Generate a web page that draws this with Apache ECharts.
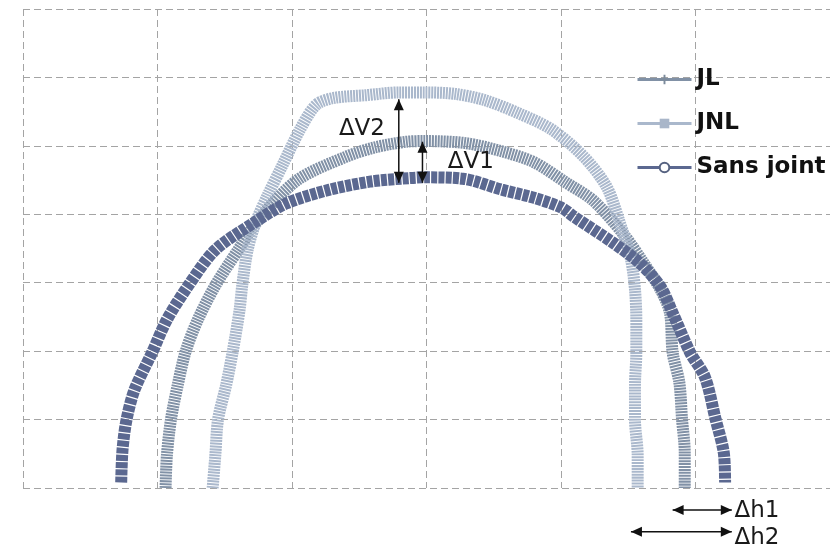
<!DOCTYPE html>
<html>
<head>
<meta charset="utf-8">
<title>JL / JNL / Sans joint</title>
<script src="https://cdn.jsdelivr.net/npm/echarts/dist/echarts.min.js"></script>
<style>
    html, body { margin: 0; padding: 0; background: #fff; }
    #main { width: 830px; height: 554px; }
</style>
</head>
<body>
<div id="main"></div>
<script>
// series values (x: horizontal position, y: height)
var seriesNames = ['JL', 'JNL', 'Sans joint'];

var jlX = [-19.4, -19.3, -19.0, -18.5, -17.9, -17.0, -15.7, -14.0, -12.4, -9.6, -6.0, -3.8, -1.5, -0.1,
    2.9, 5.6, 8.0, 10.4, 12.4, 14.6, 16.1, 17.4, 18.1, 18.3, 18.8, 19.0, 19.2, 19.2];
var jlY = [0, 2.4, 5.0, 7.5, 10.0, 12.3, 14.8, 17.4, 19.7, 22.5, 24.2, 24.9, 25.3, 25.35,
    25.2, 24.6, 23.8, 22.3, 21.0, 18.6, 16.5, 14.5, 12.8, 9.9, 7.7, 5.0, 2.6, 0];

var jnlX = [-15.9, -15.7, -15.5, -14.9, -14.4, -13.9, -13.7, -13.3, -12.7, -11.8, -10.7, -9.4, -8.2, -6.9,
    -4.5, -2.1, -0.1,
    2.1, 4.3, 6.8, 9.3, 11.7, 13.4, 14.3, 15.2, 15.5, 15.6, 15.6, 15.5, 15.5, 15.7, 15.7];
var jnlY = [0, 2.4, 5.0, 7.5, 10.0, 13.0, 14.8, 17.4, 19.4, 21.4, 23.6, 26.2, 28.0, 28.5,
    28.7, 28.9, 28.9,
    28.8, 28.35, 27.4, 26.2, 24.2, 22.0, 19.6, 16.7, 14.5, 12.3, 9.9, 7.5, 5.0, 2.4, 0];

var sansX = [-22.7, -22.6, -22.3, -21.7, -20.4, -19.3, -17.7, -15.7, -12.8, -10.4, -7.2, -4.1, -1.2, -0.1,
    2.7, 5.6, 8.0, 10.0, 11.0, 13.9, 15.9, 17.4, 18.3, 19.6, 20.7, 21.5, 22.1, 22.2];
var sansY = [0.4, 2.8, 5.0, 7.2, 9.9, 12.3, 14.8, 17.4, 19.4, 20.8, 21.8, 22.4, 22.65, 22.7,
    22.6, 21.8, 21.2, 20.5, 19.8, 17.9, 16.4, 14.7, 12.8, 9.9, 8.1, 5.0, 2.6, 0.4];

// axis ticks (no labels shown in the picture)
var xTicks = [-30, -20, -10, 0, 10, 20, 30];
var yTicks = [0, 5, 10, 15, 20, 25, 30, 35];

// annotation arrows: [label, from, to]
var vArrows = [
    ['ΔV2', [-2.06, 28.4], [-2.06, 22.3]],
    ['ΔV1', [-0.3, 25.3], [-0.3, 22.3]]
];
var hArrows = [
    ['Δh1', [18.3, -1.6], [22.7, -1.6]],
    ['Δh2', [15.2, -3.2], [22.7, -3.2]]
];
var labelPos = {
    'ΔV2': [-4.8, 26.2],
    'ΔV1': [3.3, 23.8],
    'Δh1': [22.9, -1.7],
    'Δh2': [22.9, -3.65]
};

function pairs(xs, ys) {
    return xs.map(function (x, i) { return [x, ys[i]]; });
}

var chart = echarts.init(document.getElementById('main'));

var axisCommon = {
    type: 'value',
    axisLine: { show: false },
    axisTick: { show: false },
    axisLabel: { show: false },
    splitLine: {
        show: true,
        lineStyle: { color: '#a4a4a4', width: 1, type: [7, 4] }
    }
};

var option = {
    backgroundColor: '#fff',
    animation: false,
    grid: { left: 23, top: 9, width: 816, height: 479 },
    xAxis: Object.assign({}, axisCommon, {
        min: xTicks[0], max: xTicks[xTicks.length - 1], interval: 10
    }),
    yAxis: Object.assign({}, axisCommon, {
        min: yTicks[0], max: yTicks[yTicks.length - 1], interval: 5
    }),
    legend: {
        orient: 'vertical',
        left: 636,
        top: 68,
        padding: 0,
        itemWidth: 54,
        itemHeight: 12,
        itemGap: 21,
        data: seriesNames.map(function (n) {
            return { name: n, lineStyle: { type: 'solid', width: 3 } };
        }),
        lineStyle: { width: 3, type: 'solid' },
        textStyle: {
            color: '#111',
            fontFamily: 'DejaVu Sans',
            fontWeight: 'bold',
            fontSize: 23
        }
    },
    series: [{
        name: 'JL',
        type: 'line',
        data: pairs(jlX, jlY),
        smooth: 0.3,
        showSymbol: false,
        symbol: 'path://M4,0h2v4h4v2h-4v4h-2v-4h-4v-2h4z',
        color: '#7c8b9c',
        lineStyle: { width: 12, type: [2, 0.9], color: '#8191a6' },
        z: 2
    }, {
        name: 'JNL',
        type: 'line',
        data: pairs(jnlX, jnlY),
        smooth: 0.3,
        showSymbol: false,
        symbol: 'rect',
        color: '#a9b6c9',
        lineStyle: { width: 12, type: [2, 0.9], color: '#aab8cc' },
        z: 3
    }, {
        name: 'Sans joint',
        type: 'line',
        data: pairs(sansX, sansY),
        smooth: 0.3,
        showSymbol: false,
        symbol: 'emptyCircle',
        color: '#566280',
        lineStyle: { width: 12, type: [6, 1.2], color: '#5b6890' },
        z: 4
    }]
};

chart.setOption(option);

// arrows and labels placed from data coordinates
function px(p) {
    return chart.convertToPixel({ gridIndex: 0 }, p);
}

function arrowHead(tip, dir) {
    var len = 11, half = 5;
    var bx = tip[0] - dir[0] * len, by = tip[1] - dir[1] * len;
    var nx = -dir[1], ny = dir[0];
    return {
        type: 'polygon',
        shape: { points: [tip, [bx + nx * half, by + ny * half], [bx - nx * half, by - ny * half]] },
        style: { fill: '#111' },
        z: 100
    };
}

function arrow(a, b) {
    var p1 = px(a), p2 = px(b);
    var dx = p2[0] - p1[0], dy = p2[1] - p1[1];
    var d = Math.sqrt(dx * dx + dy * dy);
    var u = [dx / d, dy / d];
    return [{
        type: 'line',
        shape: { x1: p1[0], y1: p1[1], x2: p2[0], y2: p2[1] },
        style: { stroke: '#111', lineWidth: 1.5 },
        z: 100
    }, arrowHead(p1, [-u[0], -u[1]]), arrowHead(p2, u)];
}

var graphics = [];
vArrows.concat(hArrows).forEach(function (a) {
    graphics = graphics.concat(arrow(a[1], a[2]));
    var lp = px(labelPos[a[0]]);
    var isH = a[1][1] < 0;
    graphics.push({
        type: 'text',
        x: lp[0],
        y: lp[1],
        z: 101,
        style: {
            text: a[0],
            fill: '#1a1a1a',
            font: '23px "DejaVu Sans"',
            textAlign: isH ? 'left' : 'center',
            textVerticalAlign: 'middle'
        }
    });
});

chart.setOption({ graphic: graphics });
</script>
</body>
</html>
